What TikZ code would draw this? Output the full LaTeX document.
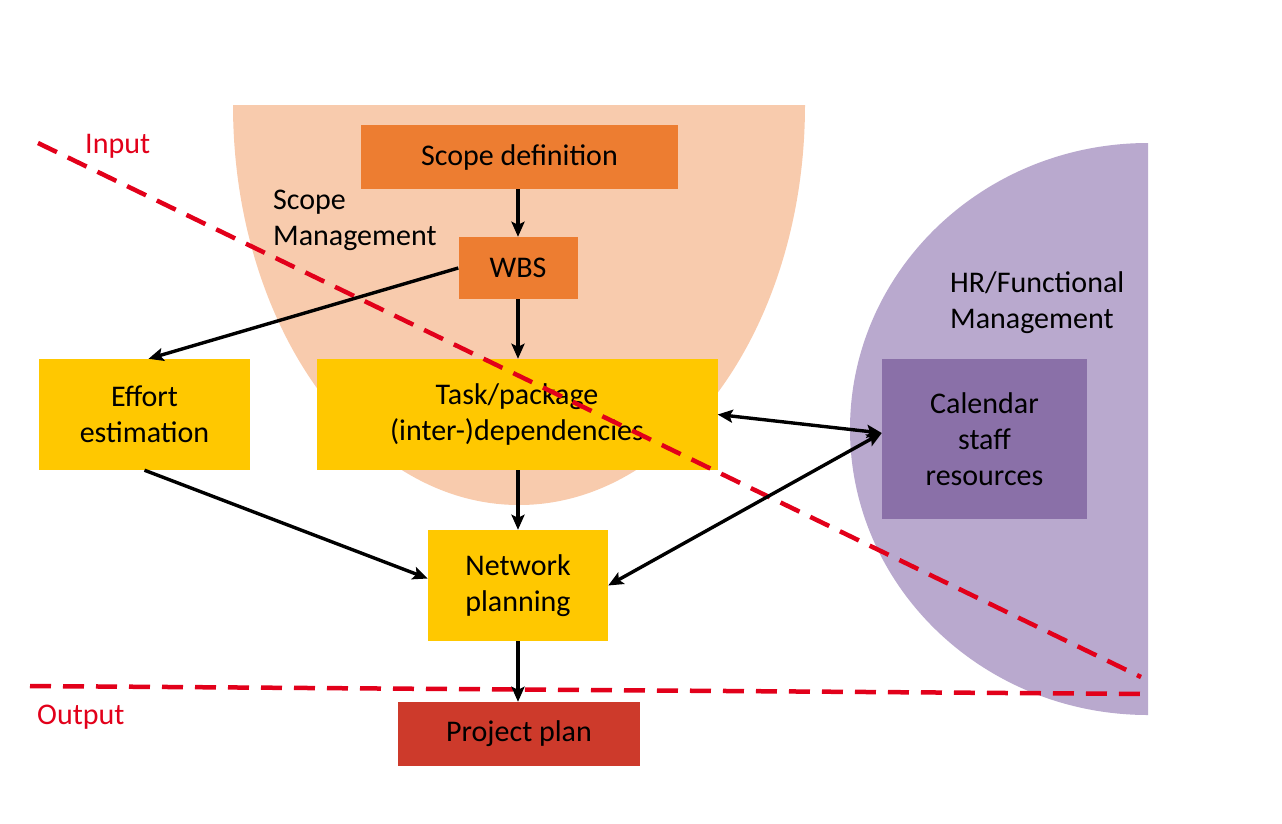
\documentclass[tikz,border=0pt]{standalone}
\usepackage{fontspec}
\setmainfont{Carlito}
\usetikzlibrary{arrows.meta}
\definecolor{peach}{HTML}{F8CBAD}
\definecolor{orangebox}{HTML}{ED7D31}
\definecolor{goldbox}{HTML}{FFC800}
\definecolor{lilac}{HTML}{B9A9CE}
\definecolor{purplebox}{HTML}{8A70A8}
\definecolor{redbox}{HTML}{CD3A2B}
\definecolor{redline}{HTML}{E2001A}
\tikzset{
  box/.style={draw=none, inner sep=0pt, align=center, font=\fontsize{30}{36}\selectfont},
  lbl/.style={inner sep=0pt, align=left, font=\fontsize{30}{36}\selectfont},
  conn/.style={line width=3.4pt, -{Stealth[length=15pt,width=13pt,inset=3pt]}},
  biconn/.style={line width=3.4pt, {Stealth[length=15pt,width=13pt,inset=3pt]}-{Stealth[length=15pt,width=13pt,inset=3pt]}},
  redash/.style={draw=redline, line width=4.5pt, dash pattern=on 21pt off 12pt}
}
\begin{document}
\begin{tikzpicture}[x=1pt,y=-1pt]
\useasboundingbox (0,0) rectangle (1282,823);
% background regions
\begin{scope}
  \clip (0,105) rectangle (1282,823);
  \fill[peach] (519,105) ellipse[x radius=286pt, y radius=400pt];
\end{scope}
\begin{scope}
  \clip (0,0) rectangle (1148,823);
  \fill[lilac] (1148,429) ellipse[x radius=298pt, y radius=286pt];
\end{scope}
% boxes
\node[box, fill=orangebox, minimum width=317pt, minimum height=64pt] (scope) at (519.5,157) {Scope definition};
\node[box, fill=orangebox, minimum width=119pt, minimum height=62pt] (wbs) at (518,268) {WBS};
\node[box, fill=goldbox, minimum width=211pt, minimum height=111pt] (effort) at (144.5,414.5) {Effort\\estimation};
\node[box, fill=goldbox, minimum width=401pt, minimum height=111pt] (task) at (517,414.5) {Task/package\\(inter-)dependencies};
\node[box, fill=goldbox, minimum width=180pt, minimum height=111pt] (network) at (518,585.5) {Network\\planning};
\node[box, fill=purplebox, minimum width=205pt, minimum height=160pt] (calendar) at (984.5,439) {Calendar\\staff\\resources};
\node[box, fill=redbox, minimum width=242pt, minimum height=64pt] (plan) at (519,734) {Project plan};
% labels
\node[lbl, anchor=west] (scopemgmt) at (273,220) {Scope\\Management};
\node[lbl, anchor=west] (hrmgmt) at (950,303) {HR/Functional\\Management};
\node[lbl, anchor=west, text=redline] (input) at (85,146) {Input};
\node[lbl, anchor=west, text=redline] (output) at (37,717) {Output};
% dashed boundaries
\coordinate (in1) at (38,143);
\coordinate (in2) at (1141,677);
\coordinate (out1) at (30,686);
\coordinate (out2) at (1147,694);
\draw[redash] (in1) -- (in2);
\draw[redash] (out1) -- (out2);
% connectors
\draw[conn] (scope.south -| wbs.north) -- (wbs.north);
\draw[conn] (wbs.south) -- (wbs.south |- task.north);
\draw[conn] (wbs.west) -- ([xshift=4pt]effort.north);
\draw[conn] (wbs.south |- task.south) -- (wbs.south |- network.north);
\draw[conn] (effort.south) -- ([yshift=7pt]network.west);
\draw[biconn] (task.east) -- ([yshift=6pt]calendar.west);
\draw[biconn] (network.east) -- ([yshift=6pt]calendar.west);
\draw[conn] (wbs.south |- network.south) -- (wbs.south |- plan.north);
\end{tikzpicture}
\end{document}
